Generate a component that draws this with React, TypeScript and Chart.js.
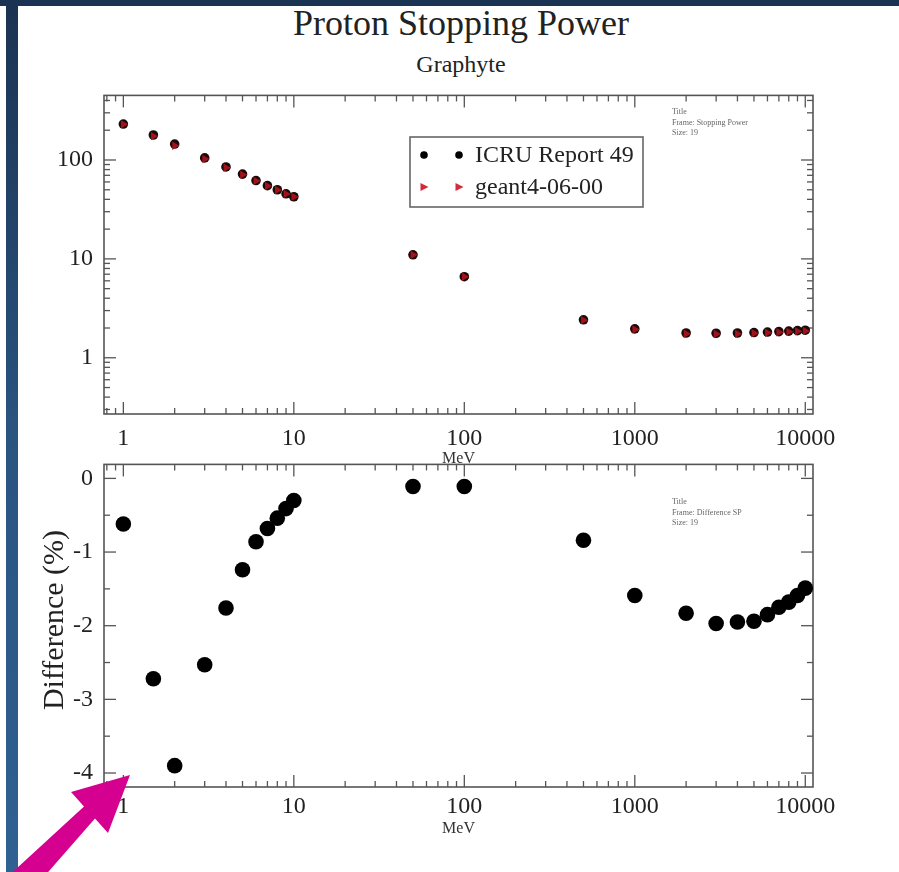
import React, { useEffect, useRef } from 'react';
import { Chart, registerables } from 'chart.js';

Chart.register(...registerables);

// Proton energies (MeV) shared by every series
const ENERGY_MEV = [1, 1.5, 2, 3, 4, 5, 6, 7, 8, 9, 10, 50, 100, 500, 1000, 2000, 3000, 4000, 5000, 6000, 7000, 8000, 9000, 10000];

// Stopping power in graphite (MeV cm2/g)
const ICRU_49 = [231, 179, 145, 105, 85, 72, 62, 55, 50, 45.5, 42.5, 11.0, 6.6, 2.42, 1.96, 1.78, 1.77, 1.78, 1.80, 1.82, 1.84, 1.86, 1.88, 1.90];
const GEANT4_06_00 = [229.6, 174.1, 139.3, 102.3, 83.5, 71.1, 61.5, 54.6, 49.7, 45.3, 42.4, 11.0, 6.6, 2.40, 1.93, 1.75, 1.74, 1.75, 1.77, 1.79, 1.81, 1.83, 1.85, 1.87];

// Relative difference geant4 vs ICRU (%)
const DIFFERENCE_PCT = [-0.62, -2.72, -3.90, -2.53, -1.76, -1.24, -0.86, -0.68, -0.54, -0.41, -0.30, -0.11, -0.11, -0.84, -1.59, -1.83, -1.97, -1.95, -1.94, -1.85, -1.75, -1.68, -1.59, -1.49];

// Labelled ticks
const X_TICKS = [1, 10, 100, 1000, 10000];
const SP_TICKS = [1, 10, 100];
const DIFF_TICKS = [0, -1, -2, -3, -4];
const DIFF_MINOR = [-0.5, -1.5, -2.5, -3.5];

const SERIF = '"Liberation Serif", "Times New Roman", "DejaVu Serif", serif';
const INK = '#222';
const FRAME = '#555';

function logMinors(fromExp: number, toExp: number): number[] {
  const out: number[] = [];
  for (let e = fromExp; e <= toExp; e++) {
    for (let m = 2; m <= 9; m++) out.push(m * Math.pow(10, e));
  }
  return out;
}

// Closed frame with inward major/minor ticks on all four sides
const frameTicks = {
  id: 'frameTicks',
  beforeDatasetsDraw(chart: any, _args: any, o: any) {
    const { ctx, chartArea: ca, scales } = chart;
    const xs = scales.x;
    const ys = scales.y;
    const seg = (x1: number, y1: number, x2: number, y2: number) => {
      ctx.beginPath();
      ctx.moveTo(x1, y1);
      ctx.lineTo(x2, y2);
      ctx.stroke();
    };
    ctx.save();
    ctx.strokeStyle = FRAME;
    ctx.lineWidth = 1.6;
    ctx.strokeRect(ca.left, ca.top, ca.right - ca.left, ca.bottom - ca.top);
    ctx.lineWidth = 1.3;
    const inX = (v: number) => v >= xs.min && v <= xs.max;
    const inY = (v: number) => v >= ys.min && v <= ys.max;
    const xTicks = (vals: number[], len: number) =>
      vals.filter(inX).forEach((v) => {
        const p = xs.getPixelForValue(v);
        seg(p, ca.bottom, p, ca.bottom - len);
        seg(p, ca.top, p, ca.top + len);
      });
    const yTicks = (vals: number[], len: number) =>
      vals.filter(inY).forEach((v) => {
        const p = ys.getPixelForValue(v);
        seg(ca.left, p, ca.left + len, p);
        seg(ca.right, p, ca.right - len, p);
      });
    xTicks(o.xMajor, 12);
    xTicks(o.xMinor, 6);
    yTicks(o.yMajor, 12);
    yTicks(o.yMinor, 6);
    ctx.restore();
  },
};

// Legend box, axis caption and small caption block drawn on the canvas
const notes = {
  id: 'notes',
  afterDraw(chart: any, _args: any, o: any) {
    const { ctx } = chart;
    ctx.save();
    if (o.legend) {
      const L = o.legend;
      ctx.strokeStyle = '#666';
      ctx.lineWidth = 1.6;
      ctx.strokeRect(L.left, L.top, L.width, L.height);
      ctx.font = `24px ${SERIF}`;
      ctx.textBaseline = 'middle';
      L.items.forEach((it: any, i: number) => {
        const cy = L.top + L.firstRow + i * L.rowGap;
        L.markerX.forEach((mx: number) => {
          ctx.fillStyle = it.color;
          ctx.beginPath();
          if (it.shape === 'circle') {
            ctx.arc(mx, cy, 3.8, 0, Math.PI * 2);
          } else {
            ctx.moveTo(mx + 4.5, cy);
            ctx.lineTo(mx - 3.5, cy - 4);
            ctx.lineTo(mx - 3.5, cy + 4);
            ctx.closePath();
          }
          ctx.fill();
        });
        ctx.fillStyle = INK;
        ctx.fillText(it.text, L.textX, cy + 1);
      });
    }
    if (o.yTitle) {
      const T = o.yTitle;
      ctx.translate(T.x, T.y);
      ctx.rotate(-Math.PI / 2);
      ctx.font = `30px ${SERIF}`;
      ctx.fillStyle = INK;
      ctx.textAlign = 'center';
      ctx.textBaseline = 'middle';
      ctx.fillText(T.text, 0, 0);
      ctx.setTransform(1, 0, 0, 1, 0, 0);
      ctx.textAlign = 'left';
    }
    if (o.caption) {
      const C = o.caption;
      ctx.font = `8px ${SERIF}`;
      ctx.fillStyle = '#666';
      ctx.textBaseline = 'middle';
      C.lines.forEach((t: string, i: number) => ctx.fillText(t, C.x, C.y + i * 10.5));
    }
    ctx.restore();
  },
};

Chart.register(frameTicks, notes);

const points = (ys: number[]) => ENERGY_MEV.map((x, i) => ({ x, y: ys[i] }));

function baseX(height: number, titlePadBottom: number, tickPad: number) {
  return {
    type: 'logarithmic' as const,
    min: 0.77,
    max: 11100,
    grid: { display: false },
    border: { display: false },
    afterBuildTicks: (s: any) => {
      s.ticks = X_TICKS.map((value) => ({ value }));
    },
    afterFit: (s: any) => {
      s.height = height;
    },
    ticks: {
      autoSkip: false,
      maxRotation: 0,
      padding: tickPad,
      color: INK,
      font: { size: 24, family: SERIF },
      callback: (v: any) => String(v),
    },
    title: {
      display: true,
      text: 'MeV',
      color: '#333',
      font: { size: 16, family: SERIF },
      padding: { top: 0, bottom: titlePadBottom },
    },
  };
}

function baseY(extra: any) {
  return {
    grid: { display: false },
    border: { display: false },
    afterFit: (s: any) => {
      s.width = 104;
    },
    ticks: {
      autoSkip: false,
      padding: 3,
      color: INK,
      font: { size: 24, family: SERIF },
      callback: (v: any) => String(v),
    },
    ...extra,
  };
}

function StoppingPowerChart() {
  const ref = useRef<HTMLCanvasElement | null>(null);
  useEffect(() => {
    if (!ref.current) return;
    const chart = new Chart(ref.current, {
      type: 'scatter',
      data: {
        datasets: [
          {
            label: 'ICRU Report 49',
            data: points(ICRU_49),
            order: 1,
            pointStyle: 'circle',
            pointRadius: 4.8,
            pointBackgroundColor: '#1a0a0a',
            pointBorderColor: '#1a0a0a',
            pointBorderWidth: 0,
            clip: false,
          },
          {
            label: 'geant4-06-00',
            data: points(GEANT4_06_00),
            order: 0,
            pointStyle: 'triangle',
            pointRotation: 90,
            pointRadius: 4.8,
            pointBackgroundColor: '#a0121c',
            pointBorderColor: '#a0121c',
            pointBorderWidth: 0,
            clip: false,
          },
        ],
      },
      options: {
        animation: false,
        responsive: false,
        devicePixelRatio: 1,
        events: [],
        layout: { padding: { left: 0, right: 86, top: 12, bottom: 0 } },
        plugins: {
          legend: { display: false },
          tooltip: { enabled: false },
          frameTicks: {
            xMajor: X_TICKS,
            xMinor: logMinors(-1, 3),
            yMajor: [0.1, 1, 10, 100],
            yMinor: logMinors(-1, 2),
          },
          notes: {
            legend: {
              left: 410,
              top: 59,
              width: 233,
              height: 70,
              firstRow: 18,
              rowGap: 32,
              markerX: [424, 459],
              textX: 475,
              items: [
                { text: 'ICRU Report 49', shape: 'circle', color: '#000' },
                { text: 'geant4-06-00', shape: 'triangle', color: '#d42a3a' },
              ],
            },
            caption: { x: 672, y: 34, lines: ['Title', 'Frame: Stopping Power', 'Size: 19'] },
          },
        } as any,
        scales: {
          x: baseX(64, 10, 2) as any,
          y: baseY({
            type: 'logarithmic',
            min: 0.27,
            max: 450,
            afterBuildTicks: (s: any) => {
              s.ticks = SP_TICKS.map((value) => ({ value }));
            },
          }) as any,
        },
      },
    });
    return () => chart.destroy();
  }, []);
  return (
    <canvas
      ref={ref}
      width={899}
      height={400}
      style={{ position: 'absolute', left: 0, top: 78, width: 899, height: 400 }}
    />
  );
}

function DifferenceChart() {
  const ref = useRef<HTMLCanvasElement | null>(null);
  useEffect(() => {
    if (!ref.current) return;
    const chart = new Chart(ref.current, {
      type: 'scatter',
      data: {
        datasets: [
          {
            label: 'Difference SP',
            data: points(DIFFERENCE_PCT),
            pointStyle: 'circle',
            pointRadius: 7.8,
            pointBackgroundColor: '#000',
            pointBorderColor: '#000',
            pointBorderWidth: 0,
            clip: false,
          },
        ],
      },
      options: {
        animation: false,
        responsive: false,
        devicePixelRatio: 1,
        events: [],
        layout: { padding: { left: 0, right: 86, top: 11, bottom: 0 } },
        plugins: {
          legend: { display: false },
          tooltip: { enabled: false },
          frameTicks: {
            xMajor: X_TICKS,
            xMinor: logMinors(-1, 3),
            yMajor: DIFF_TICKS,
            yMinor: DIFF_MINOR,
          },
          notes: {
            yTitle: { text: 'Difference (%)', x: 55, y: 173 },
            caption: { x: 672, y: 55, lines: ['Title', 'Frame: Difference SP', 'Size: 19'] },
          },
        } as any,
        scales: {
          x: baseX(82, 31, -3) as any,
          y: baseY({
            type: 'linear',
            min: -4.19,
            max: 0.19,
            afterBuildTicks: (s: any) => {
              s.ticks = DIFF_TICKS.map((value) => ({ value }));
            },
          }) as any,
        },
      },
    });
    return () => chart.destroy();
  }, []);
  return (
    <canvas
      ref={ref}
      width={899}
      height={422}
      style={{ position: 'absolute', left: 0, top: 447, width: 899, height: 422 }}
    />
  );
}

export default function App() {
  return (
    <div
      style={{
        position: 'absolute',
        left: 0,
        top: 0,
        width: 899,
        height: 872,
        overflow: 'hidden',
        background: '#fff',
        fontFamily: SERIF,
        color: INK,
      }}
    >
      <div style={{ position: 'absolute', left: 0, top: 0, width: 899, height: 6, background: '#1b3352' }} />
      <div
        style={{
          position: 'absolute',
          left: 6,
          top: 6,
          width: 12,
          height: 866,
          background: 'linear-gradient(#1b3352, #2a5480 50%, #2f6192)',
        }}
      />
      <div
        style={{
          position: 'absolute',
          left: 0,
          top: 5,
          width: 922,
          textAlign: 'center',
          fontSize: 36,
          lineHeight: '36px',
        }}
      >
        Proton Stopping Power
      </div>
      <div
        style={{
          position: 'absolute',
          left: 0,
          top: 52,
          width: 922,
          textAlign: 'center',
          fontSize: 24,
          lineHeight: '24px',
        }}
      >
        Graphyte
      </div>
      <StoppingPowerChart />
      <DifferenceChart />
      <svg
        width={899}
        height={872}
        style={{ position: 'absolute', left: 0, top: 0, pointerEvents: 'none' }}
      >
        <polygon
          points="130,775 71,792 84,806.5 4,880 28,895 95,818.5 108,833"
          fill="#d5008f"
        />
      </svg>
    </div>
  );
}
